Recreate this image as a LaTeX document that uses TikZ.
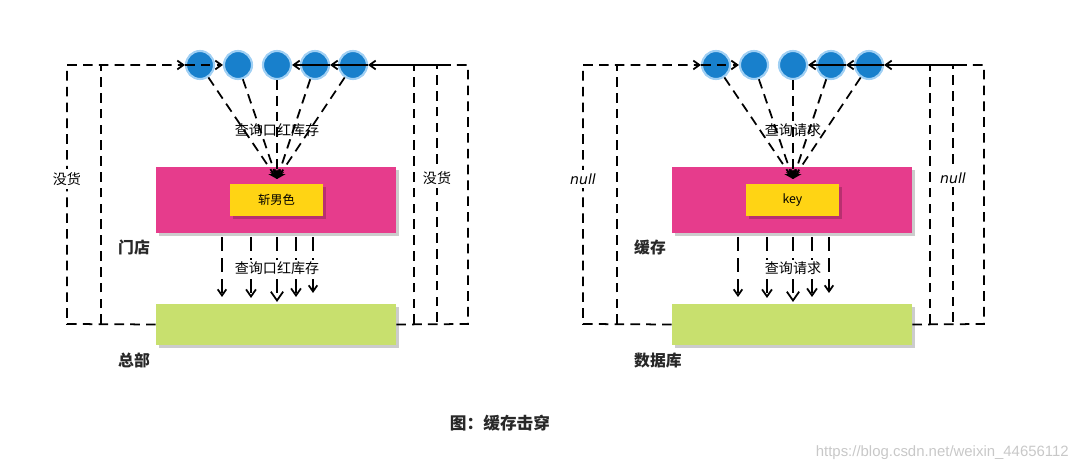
\documentclass[tikz,border=0pt]{standalone}
\usepackage{fontspec}
\setmainfont{Noto Sans CJK SC}
\newfontfamily\handlatin{DejaVu Sans}
\newfontfamily\urlfont{Liberation Sans}
\usetikzlibrary{arrows.meta,positioning,shadows}
\definecolor{cpink}{RGB}{230,60,140}
\definecolor{cyellow}{RGB}{255,212,20}
\definecolor{cgreen}{RGB}{200,224,110}
\definecolor{cblue}{RGB}{24,128,204}
\definecolor{crim}{RGB}{160,208,244}
\definecolor{cdark}{RGB}{40,40,40}
\definecolor{cwater}{RGB}{200,200,200}
\tikzset{
  link/.style={line width=1pt,dash pattern=on 5.5pt off 3.5pt},
  downlink/.style={line width=1pt,dash pattern=on 8pt off 4pt},
  barb/.style={-{Straight Barb[length=3.5pt,width=5pt]}},
  ball/.style={circle,fill=cblue,draw=crim,line width=1.2pt,minimum size=0.56cm,inner sep=0pt},
  layer/.style={rectangle,inner sep=0pt,minimum width=4.8cm,
    drop shadow={shadow xshift=1.5pt,shadow yshift=-1.5pt,opacity=0.2,fill=black}},
  handtext/.style={font=\fontsize{8}{9}\selectfont,text=black},
  tag/.style={font=\bfseries\fontsize{9}{11}\selectfont,text=cdark,anchor=west},
}
\begin{document}
\begin{tikzpicture}[x=0.02cm,y=-0.02cm]
  \useasboundingbox (0,0) rectangle (1080,469);
  \foreach \ox/\miss/\keytxt/\upper/\lower/\query in
    {0/没货/斩男色/门店/总部/查询口红库存,
     516/{\handlatin\itshape null}/key/缓存/数据库/查询请求}{
    % Layers
    \node[layer,fill=cpink,minimum height=1.32cm] (cache) at (\ox+276,200) {};
    \node[layer,fill=cyellow,minimum width=1.86cm,minimum height=0.64cm,
      font=\fontsize{7}{9}\selectfont] (key) at (\ox+276.5,200) {\keytxt};
    \node[layer,fill=cgreen,minimum height=0.82cm] (db) at (\ox+276,324.5) {};
    \node[tag] (upname) at (\ox+112,247) {\upper};
    \node[tag] (lowname) at (\ox+112,360) {\lower};
    % Requests
    \foreach \i/\cx in {1/200,2/238,3/277,4/315,5/353}
      \node[ball] (c\i) at (\ox+\cx,65) {};
    \coordinate (hit) at (\ox+277,179);
    \foreach \i in {1,...,5}
      \draw[link,-{Stealth[length=5pt,width=5pt]}] (c\i) -- (hit);
    \node[handtext] (ask) at (\ox+277,130) {\query};
    % Down to the database
    \foreach \dx/\ey/\tip in {-55/297/3.5,-26/298/4,0/302/5,19/297/4,36/293/3.5}{
      \coordinate (s) at (\ox+277+\dx,237);
      \coordinate (e) at (\ox+277+\dx,\ey);
      \draw[downlink,-{Straight Barb[length=\tip pt,width=1.4*\tip pt]}] (s) -- (e);
    }
    \node[handtext,fill=white,inner sep=1pt] (pass) at (\ox+277,268) {\query};
    % Return paths
    \coordinate (tl) at (\ox+67,65);
    \coordinate (bl) at (\ox+67,324);
    \coordinate (il) at (\ox+101,65);
    \coordinate (ilb) at (\ox+101,324);
    \coordinate (tr) at (\ox+468,65);
    \coordinate (tr2) at (\ox+450,65);
    \coordinate (br) at (\ox+468,324);
    \coordinate (ir) at (\ox+414,65);
    \coordinate (irb) at (\ox+414,324);
    \coordinate (jr) at (\ox+437,65);
    \coordinate (jrb) at (\ox+437,322);
    \draw[link,barb] (db.west) -- (bl) --
      node[pos=0.56,handtext,fill=white,inner sep=2pt] (missl) {\miss} (tl) -- (c1.west);
    \draw[link,barb] (c1.west) -- (c2.west);
    \draw[link] (ilb) -- (il);
    \draw[link] (db.east) -- (br) -- (tr) -- (tr2);
    \draw[line width=1pt,barb] (tr2) -- (c5.east);
    \draw[line width=1pt,barb] (c5.east) -- (c4.east);
    \draw[line width=1pt,barb] (c4.east) -- (c3.east);
    \draw[link] (irb) -- (ir);
    \draw[link] (jrb) --
      node[pos=0.56,handtext,fill=white,inner sep=2pt] (missr) {\miss} (jr);
  }
  % Caption
  \node[font=\bfseries\fontsize{9.5}{11}\selectfont,text=cdark] (caption) at (500,423) {图：缓存击穿};
  \node[font=\urlfont\fontsize{8.5}{10}\selectfont,text=cwater,anchor=east] (mark) at (1075,453)
    {https://blog.csdn.net/weixin\_44656112};
\end{tikzpicture}
\end{document}
